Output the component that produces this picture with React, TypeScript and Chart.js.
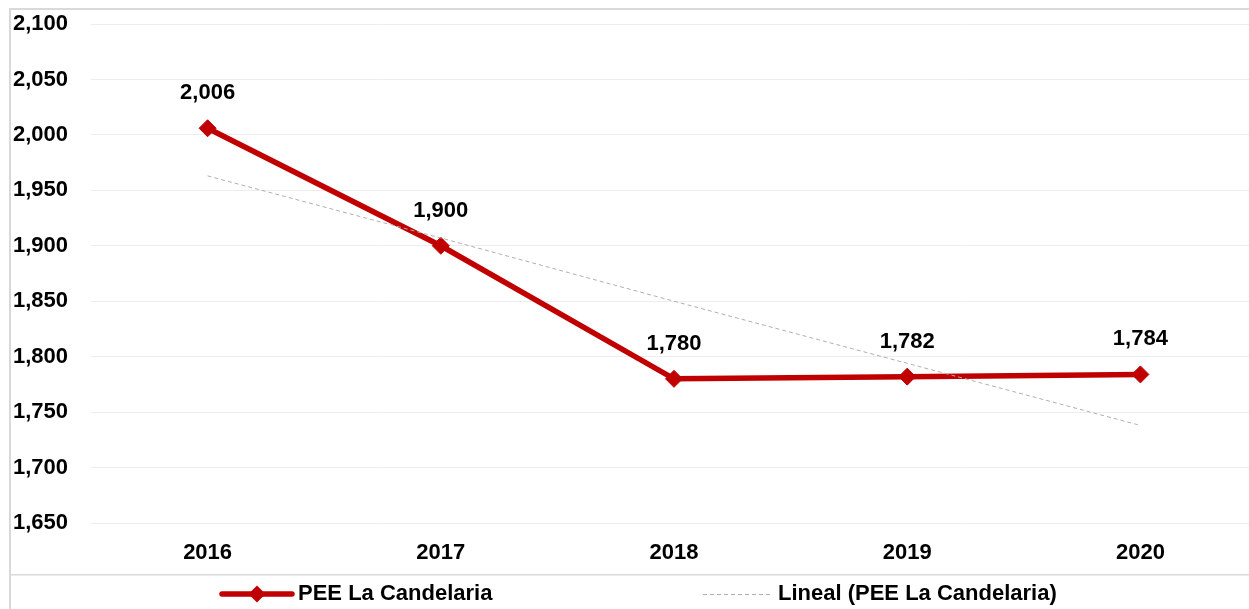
import React, { useEffect, useRef } from "react";
import { Chart, registerables } from "chart.js";

Chart.register(...registerables);

const categories = ["2016", "2017", "2018", "2019", "2020"];
const seriesValues = [2006, 1900, 1780, 1782, 1784];
const trendValues = [1963, 1907, 1850, 1794, 1738];
const seriesName = "PEE La Candelaria";
const trendName = "Lineal (PEE La Candelaria)";
const yMin = 1650;
const yMax = 2100;
const yStep = 50;

const FONT = "'Liberation Sans', Arial, sans-serif";
const FSIZE = 22;
const RED = "#C00000";
const W = 1270;
const H = 609;

const fmt = (v: number) => v.toLocaleString("en-US");

const extrasPlugin = {
  id: "extras",
  afterDatasetsDraw(chart: any) {
    const ctx = chart.ctx;
    const meta = chart.getDatasetMeta(0);
    ctx.save();
    ctx.font = `bold ${FSIZE}px ${FONT}`;
    ctx.fillStyle = "#000";
    ctx.textAlign = "center";
    ctx.textBaseline = "middle";
    meta.data.forEach((pt: any, i: number) => {
      ctx.fillText(fmt(seriesValues[i]), pt.x, pt.y - 35);
    });
    ctx.restore();
  },
  afterDraw(chart: any) {
    const ctx = chart.ctx;
    ctx.save();
    // frame
    ctx.fillStyle = "#d9d9d9";
    ctx.fillRect(9, 8, W - 9, 2);
    ctx.fillRect(9, 8, 2, H - 8);
    ctx.fillRect(11, 574, W - 11, 1.5);
    // legend
    const ly = 594;
    ctx.strokeStyle = RED;
    ctx.lineWidth = 5.5;
    ctx.lineCap = "round";
    ctx.beginPath();
    ctx.moveTo(222, ly);
    ctx.lineTo(292, ly);
    ctx.stroke();
    ctx.fillStyle = RED;
    ctx.beginPath();
    ctx.moveTo(257 - 8.5, ly);
    ctx.lineTo(257, ly - 8.5);
    ctx.lineTo(257 + 8.5, ly);
    ctx.lineTo(257, ly + 8.5);
    ctx.closePath();
    ctx.fill();
    ctx.strokeStyle = "#b0b0b0";
    ctx.lineWidth = 1;
    ctx.lineCap = "butt";
    ctx.setLineDash([4, 3]);
    ctx.beginPath();
    ctx.moveTo(703, ly + 0.5);
    ctx.lineTo(770, ly + 0.5);
    ctx.stroke();
    ctx.setLineDash([]);
    ctx.font = `bold ${FSIZE}px ${FONT}`;
    ctx.fillStyle = "#000";
    ctx.textAlign = "left";
    ctx.textBaseline = "middle";
    ctx.fillText(seriesName, 298, ly);
    ctx.fillText(trendName, 778, ly);
    ctx.restore();
  },
};

export default function App() {
  const ref = useRef<HTMLCanvasElement>(null);
  useEffect(() => {
    if (!ref.current) return;
    const chart = new Chart(ref.current, {
      type: "line",
      data: {
        labels: categories,
        datasets: [
          {
            label: seriesName,
            data: seriesValues,
            borderColor: RED,
            backgroundColor: RED,
            borderWidth: 5.5,
            pointStyle: "rectRot",
            pointRadius: 8.5,
            pointBorderWidth: 1,
            pointBackgroundColor: RED,
            pointBorderColor: RED,
            tension: 0,
            order: 2,
          },
          {
            label: trendName,
            data: trendValues,
            borderColor: "#b0b0b0",
            borderWidth: 1,
            borderDash: [4, 3],
            pointRadius: 0,
            tension: 0,
            order: 1,
          },
        ],
      },
      plugins: [extrasPlugin],
      options: {
        responsive: false,
        animation: false,
        devicePixelRatio: 1,
        layout: { padding: { left: 13, right: 13, top: 24, bottom: 0 } },
        plugins: { legend: { display: false }, tooltip: { enabled: false } },
        scales: {
          x: {
            offset: true,
            grid: { display: false, drawTicks: false },
            border: { display: false },
            ticks: {
              color: "#000",
              font: { family: FONT, size: FSIZE, weight: "bold" },
              padding: 17,
            },
            afterFit(scale: any) {
              scale.height = 86;
            },
          },
          y: {
            min: yMin,
            max: yMax,
            grid: { color: "#ededed", lineWidth: 1, drawTicks: false },
            border: { display: false },
            ticks: {
              stepSize: yStep,
              color: "#000",
              crossAlign: "far",
              font: { family: FONT, size: FSIZE, weight: "bold" },
              callback: (v: any) => fmt(Number(v)),
            },
            afterFit(scale: any) {
              scale.width = 78;
            },
          },
        },
      },
    } as any);
    return () => chart.destroy();
  }, []);
  return (
    <div style={{ position: "fixed", left: 0, top: 0, width: W, height: H, overflow: "hidden", background: "#fff" }}>
      <canvas ref={ref} width={W} height={H} style={{ display: "block" }} />
    </div>
  );
}
